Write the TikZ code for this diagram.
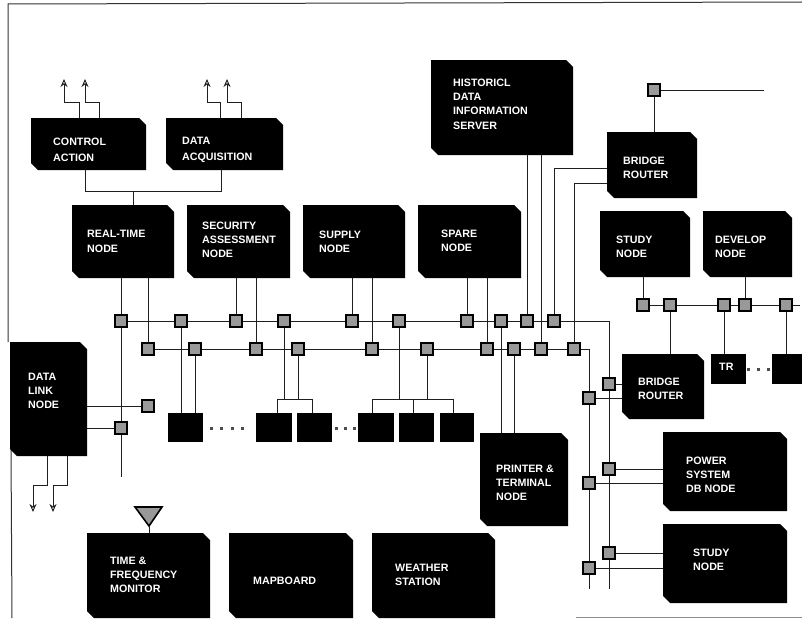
\documentclass[tikz,border=0pt]{standalone}
\usepackage{fontspec}
\setmainfont{Liberation Sans}
\usetikzlibrary{arrows.meta}
\tikzset{
  x=1pt,y=-1pt,
  plain/.style={rectangle,fill=black,draw=none,inner sep=0pt,outer sep=0pt},
  ghost/.style={rectangle,draw=none,inner sep=0pt,outer sep=0pt},
  lbl/.style={anchor=west,text=white,inner sep=0pt,align=left,
    font=\fontsize{10.7}{14.3}\selectfont\bfseries},
  port/.style={rectangle,draw=black,line width=2pt,fill=black!40,minimum size=12.5pt,inner sep=0pt,outer sep=0pt},
  wire/.style={draw=black!88,line width=1pt},
  tipw/.style={-{Stealth[open,length=8pt,width=7pt,line width=.9pt]}},
  dotk/.style={rectangle,fill=black!70,minimum size=3pt,inner sep=0pt},
}
% chamfered black box: name, x1, y1, x2, y2
\newcommand{\bx}[5]{\fill[black] (#2,#3) -- ({#4-7},#3) -- (#4,{#3+7}) -- (#4,#5) -- ({#2+7},#5) -- (#2,{#5-7}) -- cycle;
  \node[ghost,minimum width={#4-#2},minimum height={#5-#3}] (#1) at ({(#2+#4)/2},{(#3+#5)/2}) {};}
% square black box
\newcommand{\sq}[5]{\node[plain,minimum width={#4-#2},minimum height={#5-#3}] (#1) at ({(#2+#4)/2},{(#3+#5)/2}) {};}
\newcommand{\tx}[4]{\node[lbl] (#1) at (#2,#3) {#4};}
\begin{document}
\begin{tikzpicture}
\useasboundingbox (0,0) rectangle (802,618);
% frame
\coordinate (f1) at (802,2); \coordinate (f2) at (8,4); \coordinate (f3) at (8,342);
\coordinate (f4) at (11,450); \coordinate (f5) at (12,618);
\draw[line width=1pt,black!80] (f1) -- (f2) -- (f3);
\draw[line width=1pt,black!80] (f4) -- (f5);
\coordinate (f6) at (576,617); \coordinate (f7) at (802,617);
\draw[line width=1pt,black!45] (f6) -- (f7);

% ports
\foreach \n/\px in {a1/121,a2/181,a3/236,a4/284,a5/352,a6/399,a7/467,a8/501,a9/527,a10/554}
  \node[port] (\n) at (\px,321) {};
\foreach \n/\px in {b1/148,b2/195,b3/256,b4/298,b5/372,b6/427,b7/487,b8/514,b9/541,b10/574}
  \node[port] (\n) at (\px,349) {};
\foreach \n/\px in {c1/643,c2/670,c3/724,c4/745,c5/786}
  \node[port] (\n) at (\px,305) {};
\node[port] (top) at (654,90) {};
\node[port] (d1) at (148,406) {};
\node[port] (d2) at (121,428) {};
\node[port] (r1) at (609,384) {};
\node[port] (r2) at (589,398) {};
\node[port] (r3) at (609,469) {};
\node[port] (r4) at (589,483) {};
\node[port] (r5) at (609,553) {};
\node[port] (r6) at (589,568) {};

% boxes
\bx{ca}{31}{118}{146}{170}
\bx{da}{166}{118}{283}{170}
\bx{rt}{72}{205}{174}{278}
\bx{sa}{187}{205}{290}{278}
\bx{su}{303}{205}{405}{278}
\bx{sp}{418}{205}{521}{278}
\bx{hi}{431}{60}{573}{155}
\bx{br}{607}{132}{697}{198}
\bx{st}{600}{211}{690}{277}
\bx{de}{703}{211}{792}{277}
\bx{dl}{10}{342}{87}{456}
\bx{bl}{622}{354}{704}{419}
\bx{pw}{663}{432}{787}{511}
\bx{sl}{663}{524}{787}{603}
\bx{pr}{480}{433}{568}{526}
\bx{tf}{87}{533}{210}{618}
\bx{mp}{229}{533}{353}{618}
\bx{we}{372}{533}{495}{618}
\sq{tr}{711}{354}{746}{384}
\sq{tn}{772}{354}{802}{384}
\sq{s1}{168}{413}{203}{442}
\sq{s2}{256}{413}{292}{442}
\sq{s3}{297}{413}{332}{442}
\sq{s4}{358}{413}{394}{442}
\sq{s5}{399}{413}{434}{442}
\sq{s6}{440}{413}{474}{442}

% labels
\tx{t1}{53}{150}{CONTROL\\[1.7pt]ACTION}
\tx{t2}{182}{150}{DATA\\[1.7pt]ACQUISITION}
\tx{t3}{87}{241.5}{REAL-TIME\\NODE}
\tx{t4}{202}{240}{SECURITY\\ASSESSMENT\\NODE}
\tx{t5}{319}{241.5}{SUPPLY\\NODE}
\tx{t6}{441}{241}{SPARE\\NODE}
\tx{t7}{453}{104}{HISTORICL\\DATA\\INFORMATION\\SERVER}
\tx{t8}{623}{168}{BRIDGE\\ROUTER}
\tx{t9}{616}{247}{STUDY\\NODE}
\tx{t10}{715}{247}{DEVELOP\\NODE}
\tx{t11}{28}{391}{DATA\\LINK\\NODE}
\tx{t12}{638}{389}{BRIDGE\\ROUTER}
\tx{t13}{719}{367}{TR}
\tx{t14}{686}{475}{POWER\\SYSTEM\\DB NODE}
\tx{t15}{693}{560}{STUDY\\NODE}
\tx{t16}{496}{483}{PRINTER \&\\TERMINAL\\NODE}
\tx{t17}{110}{575}{TIME \&\\FREQUENCY\\MONITOR}
\tx{t18}{253}{581}{MAPBOARD}
\tx{t19}{395}{575}{WEATHER\\STATION}

% main buses
\coordinate (c1a) at (609,321); \coordinate (c1b) at (609,589);
\coordinate (c2a) at (589,349); \coordinate (c2b) at (589,589);
\coordinate (c3e) at (800,305); \coordinate (tope) at (764,90);
\draw[wire] (a1)--(a2); \draw[wire] (a2)--(a3); \draw[wire] (a3)--(a4); \draw[wire] (a4)--(a5);
\draw[wire] (a5)--(a6); \draw[wire] (a6)--(a7); \draw[wire] (a7)--(a8); \draw[wire] (a8)--(a9);
\draw[wire] (a9)--(a10);
\draw[wire] (a10)--(c1a)--(c1b);
\draw[wire] (b1)--(b2); \draw[wire] (b2)--(b3); \draw[wire] (b3)--(b4); \draw[wire] (b4)--(b5);
\draw[wire] (b5)--(b6); \draw[wire] (b6)--(b7); \draw[wire] (b7)--(b8); \draw[wire] (b8)--(b9);
\draw[wire] (b9)--(b10);
\draw[wire] (b10)--(c2a)--(c2b);
\draw[wire] (c1)--(c2); \draw[wire] (c2)--(c3); \draw[wire] (c3)--(c4); \draw[wire] (c4)--(c5); \draw[wire] (c5)--(c3e);
\draw[wire] (top)--(tope);
\draw[wire] (top)--(top|-br.north);

% control / acquisition
\coordinate (ca1) at (79,102); \coordinate (ca2) at (64,102); \coordinate (ca3) at (64,79);
\coordinate (ca4) at (99,102); \coordinate (ca5) at (85,102); \coordinate (ca6) at (85,79);
\coordinate (da1) at (220,102); \coordinate (da2) at (207,102); \coordinate (da3) at (207,79);
\coordinate (da4) at (241,102); \coordinate (da5) at (227,102); \coordinate (da6) at (227,79);
\draw[wire,tipw] (ca1|-ca.north)--(ca1)--(ca2)--(ca3);
\draw[wire,tipw] (ca4|-ca.north)--(ca4)--(ca5)--(ca6);
\draw[wire,tipw] (da1|-da.north)--(da1)--(da2)--(da3);
\draw[wire,tipw] (da4|-da.north)--(da4)--(da5)--(da6);
\coordinate (j1) at (85,191); \coordinate (j2) at (221,191); \coordinate (j3) at (133,191);
\draw[wire] (j1|-ca.south)--(j1)--(j2)--(j2|-da.south);
\draw[wire] (j3)--(j3|-rt.north);

% node drops
\coordinate (e1) at (121,477);
\draw[wire] (a1|-rt.south)--(a1); \draw[wire] (a1)--(d2); \draw[wire] (d2)--(e1);
\draw[wire] (b1|-rt.south)--(b1);
\draw[wire] (a3|-sa.south)--(a3); \draw[wire] (b3|-sa.south)--(b3);
\draw[wire] (a5|-su.south)--(a5); \draw[wire] (b5|-su.south)--(b5);
\draw[wire] (a7|-sp.south)--(a7); \draw[wire] (b7|-sp.south)--(b7);
\draw[wire] (a9|-hi.south)--(a9); \draw[wire] (b9|-hi.south)--(b9);
\coordinate (g1) at (607,168); \coordinate (g2) at (607,183);
\draw[wire] (g1)--(g1-|a10)--(a10);
\draw[wire] (g2)--(g2-|b10)--(b10);

% down to small boxes
\draw[wire] (a2)--(a2|-s1.north); \draw[wire] (b2)--(b2|-s1.north);
\coordinate (h1) at (277,399); \coordinate (h2) at (312,399);
\draw[wire] (h1|-s2.north)--(h1)--(h2)--(h2|-s3.north);
\draw[wire] (a4)--(a4|-h1); \draw[wire] (b4)--(b4|-h1);
\coordinate (h3) at (372,399); \coordinate (h4) at (453,399); \coordinate (h5) at (413,399);
\draw[wire] (h3|-s4.north)--(h3)--(h4)--(h4|-s6.north);
\draw[wire] (h5)--(h5|-s5.north);
\draw[wire] (a6)--(a6|-h3); \draw[wire] (b6)--(b6|-h3);
\draw[wire] (a8)--(a8|-pr.north); \draw[wire] (b8)--(b8|-pr.north);

% data link
\draw[wire] (dl.east|-d1)--(d1); \draw[wire] (dl.east|-d2)--(d2);
\coordinate (k1) at (47,485); \coordinate (k2) at (33,485); \coordinate (k3) at (33,512);
\coordinate (k4) at (67,485); \coordinate (k5) at (53,485); \coordinate (k6) at (53,512);
\draw[wire,tipw] (k1|-dl.south)--(k1)--(k2)--(k3);
\draw[wire,tipw] (k4|-dl.south)--(k4)--(k5)--(k6);

% upper right
\draw[wire] (c1)--(c1|-st.south); \draw[wire] (c4)--(c4|-de.south);
\draw[wire] (c2)--(c2|-bl.north); \draw[wire] (c3)--(c3|-tr.north); \draw[wire] (c5)--(c5|-tn.north);

% right side
\draw[wire] (r1)--(r1-|bl.west); \draw[wire] (r2)--(r2-|bl.west);
\draw[wire] (r3)--(r3-|pw.west); \draw[wire] (r4)--(r4-|pw.west);
\draw[wire] (r5)--(r5-|sl.west); \draw[wire] (r6)--(r6-|sl.west);

% ports on top of wires
\foreach \n in {a1,a2,a3,a4,a5,a6,a7,a8,a9,a10,b1,b2,b3,b4,b5,b6,b7,b8,b9,b10,c1,c2,c3,c4,c5,top,d1,d2,r1,r2,r3,r4,r5,r6}
  \path[draw=black,line width=2pt,fill=black!40] (\n.south west) rectangle (\n.north east);

% dots
\foreach \px/\py in {211/428,221/428,232/428,242/428,336/428,345/428,354/428,748/369,758/369,768/369}
  \node[dotk] at (\px,\py) {};

% antenna
\coordinate (an1) at (135,507); \coordinate (an2) at (162,507); \coordinate (an3) at (149,526);
\draw[line width=1.6pt,fill=black!40,line join=miter] (an1)--(an2)--(an3)--cycle;
\draw[wire] (an3)--(an3|-tf.north);
\end{tikzpicture}
\end{document}
